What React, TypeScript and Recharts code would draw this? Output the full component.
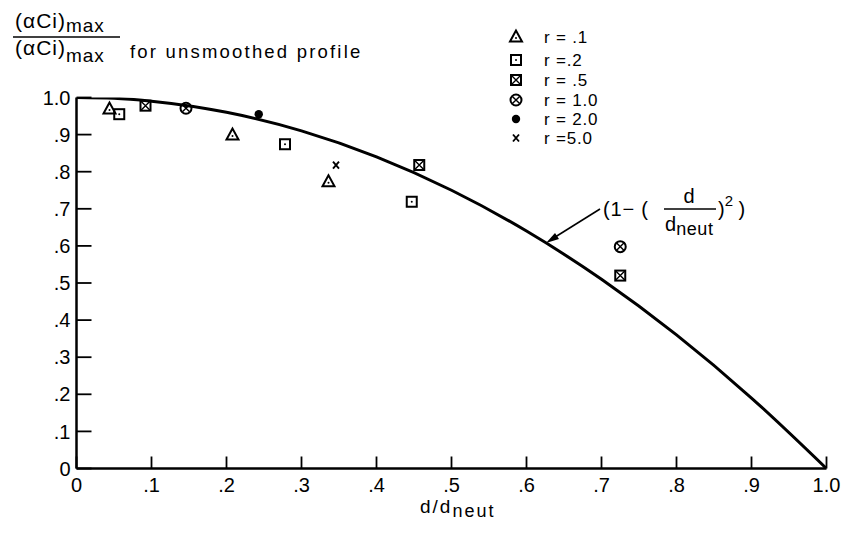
import React from "react";
import { ComposedChart, XAxis, YAxis, Line, Scatter } from "recharts";

// ---- data ----
const xTicks = [0, 0.1, 0.2, 0.3, 0.4, 0.5, 0.6, 0.7, 0.8, 0.9, 1.0];
const yTicks = [0, 0.1, 0.2, 0.3, 0.4, 0.5, 0.6, 0.7, 0.8, 0.9, 1.0];
const tickLabels = ["0", ".1", ".2", ".3", ".4", ".5", ".6", ".7", ".8", ".9", "1.0"];

// smoothed profile curve (1 - (d/dneut)^2)
const curveX = [0, 0.05, 0.1, 0.2, 0.3, 0.4, 0.5, 0.6, 0.7, 0.8, 0.9, 1.0];
const curveY = [1.0, 0.998, 0.99, 0.96, 0.91, 0.84, 0.75, 0.64, 0.51, 0.36, 0.19, 0.0];

const r01 = [
  { x: 0.044, y: 0.969 },
  { x: 0.208, y: 0.899 },
  { x: 0.336, y: 0.773 },
];
const r02 = [
  { x: 0.057, y: 0.955 },
  { x: 0.278, y: 0.874 },
  { x: 0.447, y: 0.719 },
];
const r05 = [
  { x: 0.092, y: 0.978 },
  { x: 0.457, y: 0.818 },
  { x: 0.725, y: 0.52 },
];
const r10 = [
  { x: 0.146, y: 0.971 },
  { x: 0.725, y: 0.598 },
];
const r20 = [{ x: 0.243, y: 0.955 }];
const r50 = [{ x: 0.346, y: 0.818 }];

const legendLabels = ["r = .1", "r =.2", "r = .5", "r = 1.0", "r = 2.0", "r =5.0"];

const curveData = curveX.map((x, i) => ({ x, y: curveY[i] }));

// ---- marker shapes ----
const SW = 2;
const Tri = ({ cx, cy }: any) => (
  <g>
    <polygon
      points={`${cx},${cy - 6.5} ${cx - 6},${cy + 4.5} ${cx + 6},${cy + 4.5}`}
      fill="none"
      stroke="#000"
      strokeWidth={SW}
      strokeLinejoin="miter"
    />
    <circle cx={cx} cy={cy + 1} r={1} fill="#000" />
  </g>
);
const Sq = ({ cx, cy }: any) => (
  <g>
    <rect x={cx - 5} y={cy - 5} width={10} height={10} fill="none" stroke="#000" strokeWidth={SW} />
    <circle cx={cx} cy={cy} r={1} fill="#000" />
  </g>
);
const SqX = ({ cx, cy }: any) => (
  <g>
    <rect x={cx - 5} y={cy - 5} width={10} height={10} fill="none" stroke="#000" strokeWidth={SW} />
    <path d={`M${cx - 5},${cy - 5}L${cx + 5},${cy + 5}M${cx + 5},${cy - 5}L${cx - 5},${cy + 5}`} stroke="#000" strokeWidth={1.4} />
  </g>
);
const CircX = ({ cx, cy }: any) => (
  <g>
    <circle cx={cx} cy={cy} r={5.5} fill="none" stroke="#000" strokeWidth={SW} />
    <path d={`M${cx - 3.6},${cy - 3.6}L${cx + 3.6},${cy + 3.6}M${cx + 3.6},${cy - 3.6}L${cx - 3.6},${cy + 3.6}`} stroke="#000" strokeWidth={1.4} />
  </g>
);
const Dot = ({ cx, cy }: any) => <circle cx={cx} cy={cy} r={4.2} fill="#000" />;
const XMark = ({ cx, cy }: any) => (
  <path d={`M${cx - 3},${cy - 3.5}L${cx + 3},${cy + 3.5}M${cx + 3},${cy - 3.5}L${cx - 3},${cy + 3.5}`} stroke="#000" strokeWidth={1.9} />
);
const legendShapes = [Tri, Sq, SqX, CircX, Dot, XMark];
const legendY = [37, 60, 80, 100, 119, 138];

const fmt = (v: number) => {
  const i = xTicks.findIndex((t) => Math.abs(t - v) < 1e-6);
  return i >= 0 ? tickLabels[i] : String(v);
};

const FONT = "'Liberation Sans', Arial, sans-serif";

export default function App() {
  return (
    <div style={{ position: "absolute", left: 0, top: 0, width: 843, height: 533, background: "#fff" }}>
      <ComposedChart
        width={843}
        height={533}
        margin={{ top: 97.5, left: 16.5, right: 16.5, bottom: 14.5 }}
      >
        <XAxis
          type="number"
          dataKey="x"
          domain={[0, 1]}
          ticks={xTicks}
          tickFormatter={fmt}
          allowDataOverflow
          height={50}
          stroke="#000"
          axisLine={{ stroke: "#000", strokeWidth: 2.5 }}
          tickLine={{ stroke: "#000", strokeWidth: 1.8 }}
          tickSize={-12}
          tickMargin={21}
          tick={{ fill: "#000", fontSize: 20, fontFamily: FONT }}
          interval={0}
        />
        <YAxis
          type="number"
          dataKey="y"
          domain={[0, 1]}
          ticks={yTicks}
          tickFormatter={fmt}
          allowDataOverflow
          width={60}
          stroke="#000"
          axisLine={{ stroke: "#000", strokeWidth: 2.5 }}
          tickLine={{ stroke: "#000", strokeWidth: 1.8 }}
          tickSize={-15}
          tickMargin={21}
          tick={{ fill: "#000", fontSize: 20, fontFamily: FONT }}
          interval={0}
        />
        <Line
          data={curveData}
          dataKey="y"
          type="monotone"
          stroke="#000"
          strokeWidth={3}
          dot={false}
          activeDot={false}
          isAnimationActive={false}
        />
        <Scatter data={r01} dataKey="y" shape={Tri} isAnimationActive={false} />
        <Scatter data={r02} dataKey="y" shape={Sq} isAnimationActive={false} />
        <Scatter data={r05} dataKey="y" shape={SqX} isAnimationActive={false} />
        <Scatter data={r10} dataKey="y" shape={CircX} isAnimationActive={false} />
        <Scatter data={r20} dataKey="y" shape={Dot} isAnimationActive={false} />
        <Scatter data={r50} dataKey="y" shape={XMark} isAnimationActive={false} />
      </ComposedChart>
      <svg
        width={843}
        height={533}
        style={{ position: "absolute", left: 0, top: 0, pointerEvents: "none" }}
        fontFamily={FONT}
      >
        {/* y-axis title (fraction) */}
        <text x={15} y={28} fontSize={21} fill="#000" letterSpacing={1}>
          (αCi)<tspan fontSize={19} dy={4}>max</tspan>
        </text>
        <line x1={13} y1={37} x2={120} y2={37} stroke="#000" strokeWidth={1.6} />
        <text x={15} y={55} fontSize={21} fill="#000" letterSpacing={1}>
          (αCi)<tspan fontSize={19} dy={7}>max</tspan>
        </text>
        <text x={130} y={58} fontSize={18.5} fill="#000" letterSpacing={2.2}>for unsmoothed profile</text>

        {/* legend */}
        {legendLabels.map((lab, i) => {
          const Shape = legendShapes[i];
          return (
            <g key={lab}>
              <Shape cx={516} cy={legendY[i]} />
              <text x={544} y={legendY[i] + 6} fontSize={17} letterSpacing={0.8} fill="#000">{lab}</text>
            </g>
          );
        })}

        {/* formula annotation */}
        <line x1={600} y1={209} x2={552} y2={239} stroke="#000" strokeWidth={1.6} />
        <polygon points="546,243 555,233 559,239" fill="#000" />
        <text x={603} y={216} fontSize={20} fill="#000" letterSpacing={0.8}>(1− (</text>
        <text x={689} y={203} fontSize={20} fill="#000" textAnchor="middle">d</text>
        <line x1={664} y1={209} x2={716} y2={209} stroke="#000" strokeWidth={1.6} />
        <text x={665} y={231} fontSize={20} fill="#000">d<tspan fontSize={18} dy={4} letterSpacing={0.6}>neut</tspan></text>
        <text x={718} y={216} fontSize={20} fill="#000">)<tspan fontSize={15} dy={-10}>2</tspan><tspan dy={10}> )</tspan></text>

        {/* x-axis title */}
        <text x={420} y={513} fontSize={19} fill="#000" letterSpacing={2}>d/d<tspan fontSize={18} dy={4}>neut</tspan></text>
      </svg>
    </div>
  );
}
